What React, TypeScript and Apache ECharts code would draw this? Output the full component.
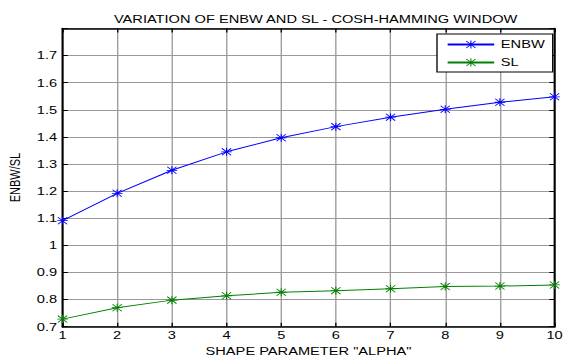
import React, { useEffect, useRef } from "react";
import * as echarts from "echarts";

const alpha = [1, 2, 3, 4, 5, 6, 7, 8, 9, 10];
const enbw = [1.091, 1.192, 1.277, 1.345, 1.397, 1.438, 1.473, 1.502, 1.528, 1.548];
const sl = [0.728, 0.77, 0.798, 0.814, 0.827, 0.833, 0.84, 0.848, 0.85, 0.854];

const STAR =
  "path://M4.5 0H5.5V10H4.5Z M0 4.5H10V5.5H0Z M1 0.3L9.7 9L9 9.7L0.3 1Z M9 0.3L9.7 1L1 9.7L0.3 9Z";

const FONT = "Liberation Sans, Arial, sans-serif";
// the reference picture is stretched horizontally; draw narrower and stretch
const S = 1.33;
const W = 567 / S;

export default function App() {
  const ref = useRef<HTMLDivElement>(null);
  useEffect(() => {
    const chart = echarts.init(ref.current!, null, { renderer: "svg" });
    const gridLine = { show: true, lineStyle: { color: "#9a9a9a", width: 1 } };
    const axisLine = { show: true, lineStyle: { color: "#000", width: 1.5 } };
    const tick = { show: true, inside: true, length: 4, lineStyle: { color: "#000" } };
    chart.setOption({
      animation: false,
      backgroundColor: "#fff",
      title: {
        text: "VARIATION OF ENBW AND SL - COSH-HAMMING WINDOW",
        left: 309 / S,
        textAlign: "center",
        top: 9,
        textStyle: { fontFamily: FONT, fontSize: 11, fontWeight: "normal", color: "#000" },
      },
      legend: {
        left: 437 / S,
        top: 34,
        orient: "vertical",
        itemWidth: 35,
        itemHeight: 10,
        itemGap: 7,
        padding: [5, 6, 4, 7],
        borderColor: "#000",
        borderWidth: 1,
        backgroundColor: "#fff",
        textStyle: { fontFamily: FONT, fontSize: 11, color: "#000" },
        data: ["ENBW", "SL"],
      },
      grid: {
        left: 62.5 / S,
        right: 12 / S,
        top: 28.5,
        bottom: 29.3,
        containLabel: false,
        outerBoundsMode: "none",
      },
      xAxis: [
        {
          type: "value",
          min: 1,
          max: 10,
          interval: 1,
          name: 'SHAPE PARAMETER "ALPHA"',
          nameLocation: "middle",
          nameGap: 15,
          nameTextStyle: { fontFamily: FONT, fontSize: 11, color: "#000" },
          axisLine,
          axisTick: tick,
          axisLabel: { fontFamily: FONT, fontSize: 11, color: "#000", margin: 3 },
          splitLine: gridLine,
        },
        {
          type: "value",
          position: "top",
          min: 1,
          max: 10,
          interval: 1,
          axisLine,
          axisTick: tick,
          axisLabel: { show: false },
          splitLine: { show: false },
        },
      ],
      yAxis: [
        {
          type: "value",
          min: 0.7,
          max: 1.8,
          interval: 0.1,
          name: "ENBW/SL",
          nameLocation: "middle",
          nameGap: 21,
          nameTextStyle: { fontFamily: FONT, fontSize: 11, color: "#000" },
          axisLine,
          axisTick: tick,
          axisLabel: {
            fontFamily: FONT,
            fontSize: 11,
            color: "#000",
            margin: 4,
            formatter: (v: number) => (v > 1.75 ? "" : String(Math.round(v * 10) / 10)),
          },
          splitLine: gridLine,
        },
        {
          type: "value",
          position: "right",
          min: 0.7,
          max: 1.8,
          interval: 0.1,
          axisLine,
          axisTick: tick,
          axisLabel: { show: false },
          splitLine: { show: false },
        },
      ],
      series: [
        {
          name: "ENBW",
          type: "line",
          data: alpha.map((a, i) => [a, enbw[i]]),
          color: "#0000ff",
          lineStyle: { width: 1, color: "#0000ff" },
          symbol: STAR,
          symbolSize: 8,
          showSymbol: true,
          itemStyle: { color: "#0000ff" },
        },
        {
          name: "SL",
          type: "line",
          data: alpha.map((a, i) => [a, sl[i]]),
          color: "#008000",
          lineStyle: { width: 1, color: "#008000" },
          symbol: STAR,
          symbolSize: 8,
          showSymbol: true,
          itemStyle: { color: "#008000" },
        },
      ],
    });
    return () => chart.dispose();
  }, []);
  return (
    <div
      style={{ position: "absolute", left: 0, top: 0, width: 567, height: 356, overflow: "hidden", background: "#fff" }}
    >
      <div
        ref={ref}
        style={{ width: W, height: 356, transform: `scaleX(${S})`, transformOrigin: "0 0" }}
      />
    </div>
  );
}
